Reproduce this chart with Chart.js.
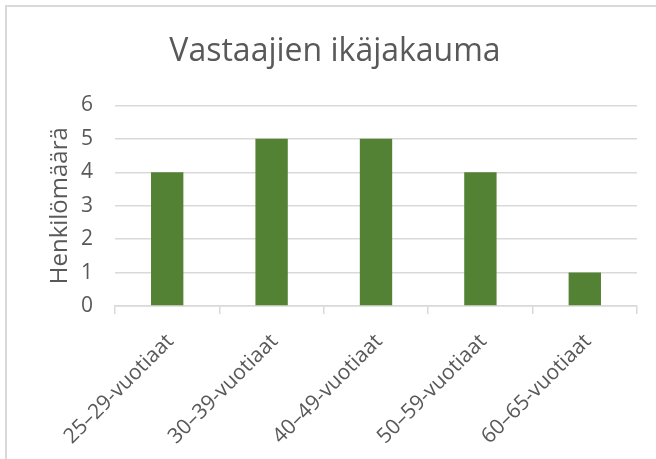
<!DOCTYPE html>
<html>
<head>
<meta charset="utf-8">
<script src="https://cdn.jsdelivr.net/npm/chart.js@4"></script>
<style>
  html, body { margin: 0; padding: 0; background: #fff; }
  #wrap { position: relative; width: 656px; height: 459px; }
  #frame { position: absolute; left: 5px; top: 5px; width: 660px; height: 470px;
           border-top: 2px solid #d9d9d9; border-left: 2px solid #d9d9d9; }
  canvas { position: absolute; left: 0; top: 0; }
</style>
</head>
<body>
<div id="wrap">
  <div id="frame"></div>
  <canvas id="myChart" width="656" height="459"></canvas>
</div>
<script>
'use strict';
let categories = ['25–29-vuotiaat', '30–39-vuotiaat', '40–49-vuotiaat', '50–59-vuotiaat', '60–65-vuotiaat'];
let counts = [4, 5, 5, 4, 1];
let yTicks = [0, 1, 2, 3, 4, 5, 6];
let chartTitle = 'Vastaajien ikäjakauma';
let yTitle = 'Henkilömäärä';

let grey = '#595959';
let lineGrey = '#d9d9d9';
let fontName = "'Open Sans', sans-serif";

let ctx = document.getElementById('myChart').getContext('2d');
let myChart = new Chart(ctx, {
    type: 'bar',
    data: {
        labels: categories,
        datasets: [{
            label: yTitle,
            data: counts,
            backgroundColor: '#548235',
            borderWidth: 0,
            barPercentage: 1,
            categoryPercentage: 0.31
        }]
    },
    options: {
        responsive: false,
        animation: false,
        layout: { padding: { left: 33, right: 19, top: 14, bottom: 0 } },
        plugins: {
            legend: { display: false },
            tooltip: { enabled: false },
            title: {
                display: true,
                text: chartTitle,
                color: grey,
                font: { family: fontName, size: 32, weight: 'normal' },
                padding: { top: 19, bottom: 34 }
            }
        },
        scales: {
            x: {
                afterFit: function (axis) {
                    // keep the rotated labels from pushing the plot area
                    axis.paddingLeft = 0;
                    axis.paddingRight = 0;
                    axis.height = 153;
                },
                grid: { offset: true, drawOnChartArea: false, color: lineGrey, lineWidth: 1.5, tickLength: 8 },
                border: { color: lineGrey, width: 1.5 },
                ticks: {
                    color: grey,
                    font: { family: fontName, size: 21 },
                    minRotation: 45,
                    maxRotation: 45,
                    labelOffset: 3,
                    padding: 15
                }
            },
            y: {
                min: 0,
                max: 6,
                afterBuildTicks: function (axis) {
                    axis.ticks = yTicks.map(function (v) { return { value: v }; });
                },
                afterFit: function (axis) {
                    axis.width = 82;
                },
                grid: { color: lineGrey, lineWidth: 1.5, drawTicks: false },
                border: { display: false },
                ticks: {
                    color: grey,
                    font: { family: fontName, size: 21 },
                    padding: 22
                },
                title: {
                    display: true,
                    text: yTitle,
                    color: grey,
                    font: { family: fontName, size: 24 },
                    padding: { top: 13, bottom: 0 }
                }
            }
        }
    }
});
</script>
</body>
</html>
